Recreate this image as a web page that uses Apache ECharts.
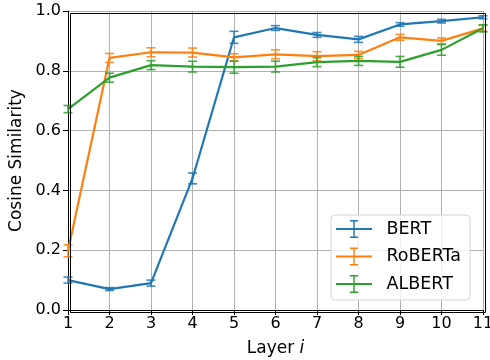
<!DOCTYPE html>
<html>
<head>
<meta charset="utf-8">
<script src="https://cdn.jsdelivr.net/npm/echarts@6/dist/echarts.min.js"></script>
<style>html,body{margin:0;padding:0;background:#fff}#c{width:490px;height:360px}</style>
</head>
<body>
<div id="c"></div>
<script>
const layers = [1,2,3,4,5,6,7,8,9,10,11];
const bertMean = [0.100,0.070,0.090,0.440,0.912,0.943,0.920,0.905,0.955,0.966,0.979];
const bertErr  = [0.010,0.005,0.010,0.018,0.020,0.008,0.008,0.010,0.006,0.006,0.005];
const robertaMean = [0.198,0.843,0.862,0.861,0.845,0.855,0.849,0.853,0.912,0.900,0.942];
const robertaErr  = [0.020,0.015,0.015,0.015,0.012,0.015,0.015,0.012,0.010,0.010,0.010];
const albertMean = [0.672,0.777,0.819,0.814,0.812,0.814,0.829,0.833,0.830,0.870,0.942];
const albertErr  = [0.012,0.015,0.015,0.018,0.020,0.018,0.015,0.015,0.018,0.018,0.012];
const yTicks = [0.0,0.2,0.4,0.6,0.8,1.0];

const FONT = 'DejaVu Sans';
const iconPath = 'path://M0,9h40v2h-40z M19.2,1h1.6v18h-1.6z M15.5,0h9v1.6h-9z M15.5,18.4h9v1.6h-9z';

function lineSeries(name, mean, color) {
  return {
    name: name, type: 'line',
    data: layers.map((x,i)=>[x, mean[i]]),
    symbol: 'none', lineStyle: {color: color, width: 2.2},
    itemStyle: {color: color}, z: 3, animation: false
  };
}
function errSeries(name, mean, err, color) {
  return {
    name: name, type: 'custom',
    data: layers.map((x,i)=>[x, mean[i]-err[i], mean[i]+err[i]]),
    renderItem: function(params, api) {
      const lo = api.coord([api.value(0), api.value(1)]);
      const hi = api.coord([api.value(0), api.value(2)]);
      const w = 4.5;
      const st = {stroke: color, lineWidth: 1.6, opacity: 0.85};
      return {type: 'group', children: [
        {type:'line', shape:{x1:lo[0],y1:lo[1],x2:hi[0],y2:hi[1]}, style: st},
        {type:'line', shape:{x1:lo[0]-w,y1:lo[1],x2:lo[0]+w,y2:lo[1]}, style: st},
        {type:'line', shape:{x1:hi[0]-w,y1:hi[1],x2:hi[0]+w,y2:hi[1]}, style: st}
      ]};
    },
    encode: {x: 0, y: [1,2]}, z: 4, animation: false, silent: true
  };
}

const colors = ['#1f77b4','#ff7f0e','#2ca02c'];
const chart = echarts.init(document.getElementById('c'), null, {renderer: 'canvas'});
chart.setOption({
  animation: false,
  textStyle: {fontFamily: FONT},
  grid: {left: 68, right: 7, top: 11, bottom: 50, containLabel: false, outerBoundsMode: 'none', show: false},
  legend: {
    data: [
      {name:'BERT', icon: iconPath, itemStyle:{color: colors[0]}},
      {name:'RoBERTa', icon: iconPath, itemStyle:{color: colors[1]}},
      {name:'ALBERT', icon: iconPath, itemStyle:{color: colors[2]}}
    ],
    orient: 'vertical', left: 331, top: 215,
    itemWidth: 37, itemHeight: 18, itemGap: 9.5,
    padding: [5, 9, 7, 5],
    borderColor: '#d5d5d5', borderWidth: 1, borderRadius: 4,
    backgroundColor: 'rgba(255,255,255,0.8)',
    textStyle: {fontFamily: FONT, fontSize: 17.5, color: '#000', padding: [0,0,0,9]},
    selectedMode: false, z: 10
  },
  xAxis: {
    type: 'value', min: 1, max: 11, interval: 1,
    name: 'Layer {i|i}', nameLocation: 'middle', nameGap: 30,
    nameTextStyle: {fontFamily: FONT, fontSize: 17, color: '#000',
      rich: {i: {fontFamily: FONT, fontSize: 17, fontStyle: 'italic', color: '#000'}}},
    axisLine: {show: true, onZero: false, lineStyle: {color: '#000', width: 1}},
    axisTick: {show: true, length: 5, lineStyle: {color: '#000'}},
    axisLabel: {fontFamily: FONT, fontSize: 16, color: '#000', margin: 6, hideOverlap: false},
    splitLine: {show: true, lineStyle: {color: '#b0b0b0', width: 1}}
  },
  yAxis: {
    type: 'value', min: 0, max: 1, interval: 0.2,
    name: 'Cosine Similarity', nameLocation: 'middle', nameGap: 42,
    nameTextStyle: {fontFamily: FONT, fontSize: 17, color: '#000'},
    axisLine: {show: true, onZero: false, lineStyle: {color: '#000', width: 1}},
    axisTick: {show: true, length: 5, lineStyle: {color: '#000'}},
    axisLabel: {fontFamily: FONT, fontSize: 16, color: '#000', margin: 7, hideOverlap: false,
      formatter: v => yTicks.find(t => Math.abs(t - v) < 1e-9) !== undefined ? v.toFixed(1) : ''},
    splitLine: {show: true, lineStyle: {color: '#b0b0b0', width: 1}}
  },
  series: [
    lineSeries('BERT', bertMean, colors[0]),
    errSeries('BERT', bertMean, bertErr, colors[0]),
    lineSeries('RoBERTa', robertaMean, colors[1]),
    errSeries('RoBERTa', robertaMean, robertaErr, colors[1]),
    lineSeries('ALBERT', albertMean, colors[2]),
    errSeries('ALBERT', albertMean, albertErr, colors[2])
  ],
  graphic: [{
    type: 'rect', left: 68, top: 11, shape: {width: 415, height: 299},
    style: {fill: 'none', stroke: '#000', lineWidth: 1}, z: 5, silent: true
  }]
});
</script>
</body>
</html>
